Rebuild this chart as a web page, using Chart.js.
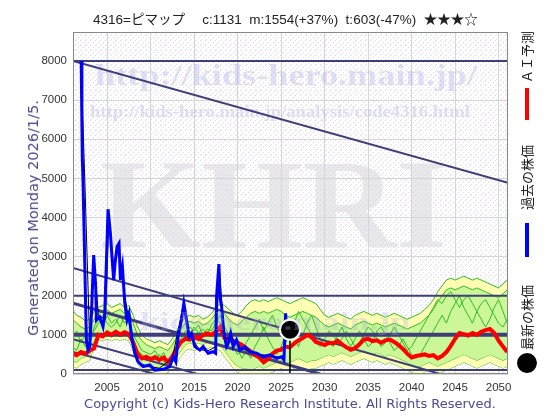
<!DOCTYPE html>
<html>
<head>
<meta charset="utf-8">
<script src="https://cdn.jsdelivr.net/npm/chart.js@4.4.1/dist/chart.umd.min.js"></script>
<style>
  body { margin: 0; background: #fff; }
  #wrap { position: relative; width: 560px; height: 420px; overflow: hidden; }
  #chart { position: absolute; left: 0; top: 0; }
  .txt { position: absolute; white-space: nowrap; }
  #title { left: 93px; top: 8px; font: 13.5px "Liberation Sans", "Noto Sans CJK JP", sans-serif; color: #222; }
  #ylabel { left: 33px; top: 218px; transform: translate(-50%, -50%) rotate(-90deg); font: 14.5px "DejaVu Sans", sans-serif; color: #4a4a8c; }
  #copy { left: 290px; top: 403px; transform: translate(-50%, -50%); font: 13px "DejaVu Sans", sans-serif; color: #4a4a96; }
  #legend { left: 527px; top: 203px; width: 340px; height: 20px; transform: translate(-50%, -50%) rotate(-90deg); }
  #legend span { position: absolute; top: 0; height: 20px; line-height: 20px; font: 13px "Noto Sans CJK JP", sans-serif; color: #222; }
  #legend .bar { height: 4px; top: 8px; }
</style>
</head>
<body>
<div id="wrap">
  <canvas id="chart" width="560" height="420"></canvas>
  <div class="txt" id="title">4316=ピマップ　 c:1131&nbsp; m:1554(+37%)&nbsp; t:603(-47%)&nbsp; ★★★☆</div>
  <div class="txt" id="ylabel">Generated on Monday 2026/1/5.</div>
  <div class="txt" id="copy">Copyright (c) Kids-Hero Research Institute. All Rights Reserved.</div>
  <div class="txt" id="legend">
    <span style="left:0;width:20px;height:20px;border-radius:10px;background:#000"></span>
    <span style="left:23px">最新の株価</span>
    <span class="bar" style="left:116px;width:34px;background:#0000ff"></span>
    <span style="left:163px">過去の株価</span>
    <span class="bar" style="left:253px;width:32px;background:#ff0000"></span>
    <span style="left:290px">ＡＩ予測</span>
  </div>
</div>
<script>
// 軸
const tickYears = [2005, 2010, 2015, 2020, 2025, 2030, 2035, 2040, 2045, 2050];
const tickValues = [0, 1000, 2000, 3000, 4000, 5000, 6000, 7000, 8000];

// 過去の株価
const pastYears = [2002.02, 2002.1, 2002.15, 2002.23, 2002.43, 2002.62, 2002.81, 2003.0, 2003.2, 2003.46,
  2003.69, 2003.77, 2004.15, 2004.53, 2004.73, 2005.11, 2005.38, 2005.61, 2005.76, 2005.91,
  2006.14, 2006.37, 2006.53, 2006.76, 2007.03, 2007.29, 2007.52, 2007.8, 2008.18, 2008.56,
  2009.14, 2009.91, 2010.48, 2011.44, 2012.21, 2012.59, 2012.9, 2013.16, 2013.55, 2013.82,
  2014.13, 2014.43, 2014.71, 2015.08, 2015.66, 2016.04, 2016.61, 2017.19, 2017.47, 2017.58,
  2017.85, 2017.96, 2018.16, 2018.42, 2018.73, 2018.92, 2019.2, 2019.49, 2019.88, 2020.26,
  2020.84, 2021.41, 2022.18, 2022.94, 2023.72, 2024.49, 2025.06, 2025.33, 2025.52, 2025.64, 2026.02];
const pastPrices = [8000, 6500, 5500, 4960, 2830, 870, 610, 700, 1550, 3040,
  2230, 1380, 1460, 1210, 1550, 4210, 3600, 2830, 2400, 2830,
  3250, 3340, 2400, 2740, 1810, 1380, 1550, 950, 530, 310,
  190, 230, 100, 120, 190, 440, 310, 950, 1380, 1810,
  1380, 950, 1040, 700, 610, 700, 530, 570, 530, 1980,
  2810, 1980, 1720, 1040, 700, 780, 1040, 700, 870, 610,
  700, 570, 530, 440, 490, 400, 440, 360, 1550, 950, 1131];

// 細い黒線 (月足)
const monthlyYears = [2002.0, 2002.5, 2002.7, 2003.0, 2003.5, 2004.0, 2004.8, 2005.2, 2005.8, 2006.3,
  2006.9, 2007.4, 2008.0, 2008.6, 2009.5, 2011.0, 2012.5, 2013.7, 2014.5, 2015.5,
  2016.5, 2017.5, 2017.9, 2018.5, 2019.3, 2020.5, 2022.0, 2023.5, 2025.3, 2025.6, 2026.02];
const monthlyPrices = [8000, 4500, 3000, 800, 2900, 1500, 1400, 4000, 2600, 3300,
  2200, 1500, 800, 300, 200, 150, 400, 1700, 1000, 650,
  580, 700, 2700, 900, 950, 650, 520, 470, 420, 1400, 1131];

// 最新の株価
const latestYear = 2026.02;
const latestPrice = 1131;

// AI予測 / シミュレーション帯 (2001年から半年刻み)
const bandStart = 2001;
const bandStep = 0.5;
const aiForecast = [520, 480, 560, 520, 600, 650, 1000, 960, 1060, 1000,
  1080, 1010, 1070, 1020, 800, 520, 400, 440, 370, 430,
  360, 420, 300, 450, 650, 820, 900, 880, 960, 900,
  990, 1040, 1000, 1080, 1200, 920, 880, 830, 800, 740,
  660, 580, 480, 420, 300, 380, 520, 600, 620, 700,
  680, 780, 860, 920, 1000, 940, 820, 780, 740, 800,
  780, 850, 760, 680, 620, 660, 760, 880, 900, 840,
  860, 800, 860, 880, 820, 740, 640, 520, 420, 460,
  480, 500, 460, 480, 400, 460, 560, 720, 900, 1050,
  1020, 980, 1050, 1000, 1080, 1120, 1150, 1050, 850, 700, 560];
const outerHigh = [1650, 1500, 1450, 1350, 1400, 1600, 1700, 1750, 1800, 1700,
  1750, 1800, 1700, 1750, 1500, 1200, 1000, 900, 850, 800,
  850, 800, 750, 900, 1100, 1300, 1450, 1500, 1450, 1500,
  1400, 1450, 1550, 1700, 1800, 1750, 1650, 1550, 1500, 1600,
  1750, 1850, 1900, 1850, 1900, 1850, 1900, 1950, 1900, 1850,
  1800, 1850, 1900, 1950, 1900, 1850, 1800, 1650, 1500, 1450,
  1500, 1550, 1500, 1450, 1400, 1500, 1550, 1600, 1550, 1500,
  1550, 1500, 1450, 1500, 1550, 1500, 1450, 1400, 1450, 1500,
  1550, 1650, 1750, 1900, 2100, 2250, 2400, 2450, 2400, 2450,
  2500, 2450, 2400, 2450, 2400, 2350, 2300, 2250, 2200, 2300, 2400];
const outerLow = [200, 150, 250, 300, 350, 700, 900, 850, 900, 850,
  900, 850, 900, 850, 600, 300, 100, 50, 0, 0,
  0, 0, 50, 150, 300, 450, 600, 650, 600, 650,
  600, 650, 700, 650, 600, 450, 300, 150, 50, 0,
  0, 0, 0, 0, 0, 0, 50, 100, 150, 100,
  100, 150, 200, 150, 100, 150, 150, 200, 250, 300,
  250, 300, 350, 300, 250, 300, 350, 400, 350, 300,
  350, 300, 250, 300, 250, 200, 150, 100, 50, 0,
  0, 50, 100, 50, 0, 50, 100, 150, 200, 250,
  300, 250, 200, 150, 200, 250, 300, 250, 200, 150, 200];
const innerHigh = [1400, 1300, 1200, 1150, 1200, 1400, 1550, 1600, 1650, 1550,
  1600, 1650, 1550, 1600, 1300, 1000, 850, 750, 700, 650,
  700, 650, 600, 750, 950, 1150, 1300, 1350, 1300, 1350,
  1250, 1300, 1400, 1550, 1650, 1550, 1400, 1300, 1250, 1350,
  1450, 1550, 1600, 1550, 1600, 1550, 1600, 1650, 1600, 1500,
  1450, 1500, 1550, 1600, 1550, 1500, 1450, 1350, 1250, 1200,
  1250, 1300, 1250, 1200, 1150, 1250, 1300, 1350, 1300, 1250,
  1300, 1250, 1200, 1250, 1300, 1250, 1200, 1150, 1200, 1250,
  1300, 1400, 1500, 1650, 1850, 2000, 2150, 2200, 2150, 2200,
  2250, 2200, 2150, 2200, 2150, 2100, 2050, 2000, 1950, 2050, 2150];
const innerLow = [350, 300, 400, 450, 500, 850, 1000, 950, 1000, 950,
  1000, 950, 1000, 950, 750, 450, 250, 200, 150, 150,
  150, 100, 200, 300, 450, 600, 750, 800, 750, 800,
  750, 800, 850, 800, 750, 600, 450, 300, 200, 150,
  150, 100, 150, 200, 150, 200, 250, 300, 350, 300,
  300, 350, 400, 350, 300, 350, 350, 400, 450, 500,
  450, 500, 550, 500, 450, 500, 550, 600, 550, 500,
  550, 500, 450, 500, 450, 400, 350, 300, 250, 200,
  200, 250, 300, 250, 200, 250, 300, 350, 400, 450,
  500, 450, 400, 350, 400, 450, 500, 450, 400, 350, 400];
const pathA = [900, 1100, 800, 1000, 700, 1200, 1400, 1200, 1500, 1300,
  1400, 1200, 1500, 1300, 900, 600, 500, 400, 450, 350,
  500, 300, 350, 500, 700, 900, 1100, 1000, 1200, 1050,
  1150, 1000, 1250, 1400, 1300, 1100, 900, 700, 500, 600,
  800, 1000, 1200, 1400, 1100, 1300, 1500, 1200, 1000, 800,
  1000, 1300, 1600, 1400, 1200, 1000, 800, 700, 900, 1100,
  1000, 800, 900, 1100, 900, 700, 800, 1000, 1200, 1100,
  900, 700, 800, 1000, 1200, 1000, 800, 600, 700, 900,
  1100, 1300, 1500, 1700, 1900, 1800, 2000, 2100, 1900, 1700,
  1900, 2000, 1800, 1600, 1800, 1900, 1700, 1500, 1300, 1200, 1400];
const pathB = [700, 600, 900, 700, 1000, 1100, 1300, 1500, 1300, 1200,
  1300, 1500, 1300, 1400, 1000, 800, 600, 550, 500, 600,
  400, 550, 300, 450, 600, 800, 1000, 1200, 1100, 1250,
  1000, 1150, 1100, 1300, 1500, 1200, 1000, 800, 650, 400,
  600, 400, 700, 900, 1200, 900, 700, 500, 700, 1000,
  1200, 900, 700, 1000, 1300, 1500, 1200, 900, 700, 800,
  700, 1000, 1200, 900, 700, 900, 1100, 900, 700, 800,
  1100, 1200, 1000, 800, 600, 700, 900, 700, 500, 400,
  500, 700, 900, 1100, 1300, 1500, 1300, 1600, 1800, 2000,
  1700, 1500, 1300, 1600, 1400, 1200, 1400, 1700, 1900, 1600, 1300];

// サポート/レジスタンス線 [開始年, 開始値, 終了年, 終了値, 太さ]
const trendLines = [
  [2001.08, 8000, 2051.08, 8000, 2],
  [2001.08, 2000, 2051.08, 2000, 2],
  [2001.08, 1000, 2051.08, 1000, 4],
  [2001.08, 100, 2051.08, 100, 2],
  [2001.08, 8000, 2051.08, 4885, 2],
  [2001.08, 2710, 2043.3, 0, 2],
  [2001.08, 1810, 2029.5, 0, 3],
  [2001.08, 890, 2015.4, 0, 2],
  [2001.08, 560, 2010.5, 0, 2]
];

function zip(xs, ys) {
  return ys.map((y, i) => ({ x: xs[i], y: y }));
}
function band(values) {
  return values.map((y, i) => ({ x: bandStart + i * bandStep, y: y }));
}

// 背景のドット模様
const pc = document.createElement('canvas');
pc.width = 5; pc.height = 5;
const pctx = pc.getContext('2d');
pctx.fillStyle = '#ffffff';
pctx.fillRect(0, 0, 5, 5);
pctx.fillStyle = '#f2d2f2';
pctx.fillRect(0, 0, 1, 1);
pctx.fillRect(3, 2, 1, 1);
pctx.fillStyle = '#d0eef2';
pctx.fillRect(1, 4, 1, 1);
const dotPattern = pctx.createPattern(pc, 'repeat');

const green = '#33bb22';
const navy = '#3e3e78';

const datasets = [
  { data: [{ x: latestYear, y: latestPrice }], showLine: false, pointRadius: 10, pointBackgroundColor: '#000', pointBorderColor: '#fff', pointBorderWidth: 2, order: 0 },
  { data: zip(pastYears, pastPrices), borderColor: '#0000ff', borderWidth: 3, order: 1 },
  { data: zip(monthlyYears, monthlyPrices), borderColor: '#000', borderWidth: 1, order: 2 },
  { data: [{ x: latestYear, y: latestPrice }, { x: latestYear, y: 0 }], borderColor: '#000', borderWidth: 1.5, order: 2 },
  { data: band(aiForecast), borderColor: '#ff0000', borderWidth: 4, order: 3 }
];
trendLines.forEach(t => {
  datasets.push({ data: [{ x: t[0], y: t[1] }, { x: t[2], y: t[3] }], borderColor: navy, borderWidth: t[4], order: 4 });
});
datasets.push({ data: band(pathA), borderColor: green, borderWidth: 1, order: 5 });
datasets.push({ data: band(pathB), borderColor: green, borderWidth: 1, order: 5 });
const innerHighIdx = datasets.length;
datasets.push({ data: band(innerHigh), borderColor: green, borderWidth: 1, fill: innerHighIdx + 1, backgroundColor: '#ccf799', order: 6 });
datasets.push({ data: band(innerLow), borderColor: green, borderWidth: 1, order: 6 });
const outerHighIdx = datasets.length;
datasets.push({ data: band(outerHigh), borderColor: green, borderWidth: 1, fill: outerHighIdx + 1, backgroundColor: '#ffffb4', order: 7 });
datasets.push({ data: band(outerLow), borderColor: green, borderWidth: 1, order: 7 });

// 横幅を合わせて透かし文字を描く
function fitText(ctx, text, x, y, w, font) {
  ctx.save();
  ctx.font = font;
  const m = ctx.measureText(text).width;
  ctx.translate(x, y);
  ctx.scale(w / m, 1);
  ctx.fillText(text, 0, 0);
  ctx.restore();
}

const plotDecor = {
  id: 'plotDecor',
  beforeDraw(chart) {
    const a = chart.chartArea;
    const ctx = chart.ctx;
    ctx.save();
    ctx.fillStyle = dotPattern;
    ctx.fillRect(a.left, a.top, a.right - a.left, a.bottom - a.top);
    ctx.restore();
  },
  beforeDatasetsDraw(chart) {
    const ctx = chart.ctx;
    ctx.save();
    ctx.textBaseline = 'alphabetic';
    ctx.fillStyle = 'rgba(212, 210, 216, 0.5)';
    fitText(ctx, 'KHRI', 100, 247, 347, 'bold 128px "Liberation Serif"');
    ctx.fillStyle = 'rgba(175, 175, 230, 0.4)';
    fitText(ctx, 'http://kids-hero.main.jp/', 95, 85, 382, 'bold 30px "Liberation Serif"');
    fitText(ctx, 'http://kids-hero.main.jp/analysis/code4316.html', 90, 117, 380, 'bold 16px "Liberation Serif"');
    ctx.restore();
  },
  afterDatasetsDraw(chart) {
    const ctx = chart.ctx;
    const a = chart.chartArea;
    ctx.save();
    ctx.fillStyle = 'rgba(170, 170, 215, 0.3)';
    fitText(ctx, 'kids-hero.main.jp', 140, 330, 270, 'bold 26px "Liberation Serif"');
    ctx.strokeStyle = '#888';
    ctx.lineWidth = 1;
    ctx.strokeRect(a.left + 0.5, a.top + 0.5, a.right - a.left - 1, a.bottom - a.top - 1);
    ctx.restore();
  }
};

new Chart(document.getElementById('chart'), {
  type: 'line',
  data: { datasets: datasets },
  plugins: [plotDecor],
  options: {
    responsive: false,
    animation: false,
    events: [],
    elements: { point: { radius: 0 }, line: { tension: 0 } },
    layout: { padding: { left: 0, top: 32, right: 52, bottom: 0 } },
    plugins: { legend: { display: false }, tooltip: { enabled: false } },
    scales: {
      x: {
        type: 'linear',
        min: 2001.08,
        max: 2051.08,
        afterBuildTicks: s => { s.ticks = tickYears.map(v => ({ value: v })); },
        afterFit: s => { s.height = 46; },
        grid: { color: '#d6d6d6', drawTicks: false },
        border: { display: false },
        ticks: { color: '#333', padding: 7, font: { family: 'Liberation Sans', size: 11.5 }, callback: v => String(v) }
      },
      y: {
        min: 0,
        max: 8740,
        afterBuildTicks: s => { s.ticks = tickValues.map(v => ({ value: v })); },
        afterFit: s => { s.width = 73; },
        grid: { color: '#d6d6d6', drawTicks: false },
        border: { display: false },
        ticks: { color: '#333', padding: 6, font: { family: 'Liberation Sans', size: 11.5 }, callback: v => String(v) }
      }
    }
  }
});
</script>
</body>
</html>
